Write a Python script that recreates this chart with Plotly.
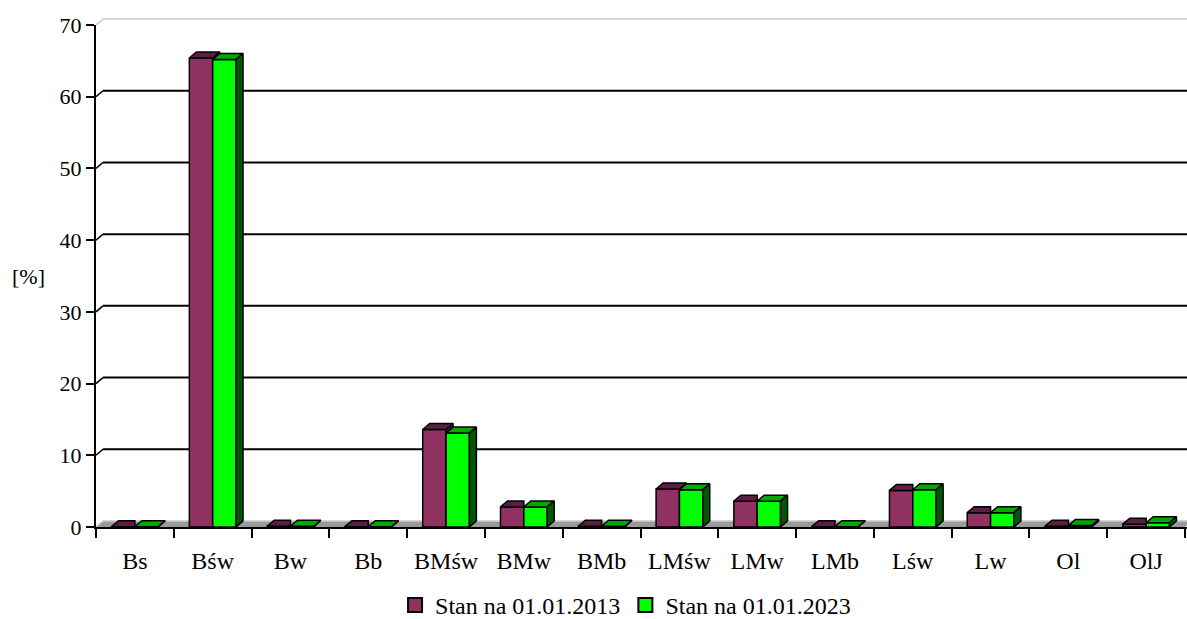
import plotly.graph_objects as go

# Forest site types and their share of area [%]
categories = ["Bs", "Bśw", "Bw", "Bb", "BMśw", "BMw", "BMb",
              "LMśw", "LMw", "LMb", "Lśw", "Lw", "Ol", "OlJ"]
share_2013 = [0.05, 65.4, 0.1, 0.05, 13.6, 2.8, 0.1, 5.3, 3.6, 0.05, 5.1, 2.0, 0.1, 0.4]
share_2023 = [0.05, 65.2, 0.1, 0.05, 13.1, 2.8, 0.1, 5.2, 3.6, 0.05, 5.2, 2.0, 0.2, 0.6]
series_names = ["Stan na 01.01.2013", "Stan na 01.01.2023"]
y_ticks = [0, 10, 20, 30, 40, 50, 60, 70]

FONT = "Liberation Serif, Times New Roman, DejaVu Serif, serif"
BAR_W = 0.3           # bar width in category units
DX, DY = 0.09, 0.835  # pseudo-3D depth offsets (x units, y units)
Y_MAX = 70

PURPLE_FRONT, PURPLE_TOP = "#8f3161", "#5c1e42"
GREEN_FRONT, GREEN_TOP, GREEN_SIDE = "#00ff00", "#00a800", "#005800"

idx = list(range(len(categories)))
x_2013 = [i - BAR_W / 2 for i in idx]
x_2023 = [i + BAR_W / 2 for i in idx]
x_left, x_right = -0.5, len(categories) - 0.5
x_max = x_right + 0.025

fig = go.Figure()

# front faces of the columns
fig.add_trace(go.Bar(x=x_2013, y=share_2013, width=BAR_W, name=series_names[0],
                     showlegend=False,
                     marker=dict(color=PURPLE_FRONT, line=dict(color="black", width=1.5))))
fig.add_trace(go.Bar(x=x_2023, y=share_2023, width=BAR_W, name=series_names[1],
                     showlegend=False,
                     marker=dict(color=GREEN_FRONT, line=dict(color="black", width=1.5))))


def poly(points, xs, ys):
    for px, py in points + [points[0]]:
        xs.append(px)
        ys.append(py)
    xs.append(None)
    ys.append(None)


# top and side faces computed from the same values
p_top_x, p_top_y, p_side_x, p_side_y = [], [], [], []
g_top_x, g_top_y, g_side_x, g_side_y = [], [], [], []
for i, a, b in zip(idx, share_2013, share_2023):
    x0, x1, x2 = i - BAR_W, i, i + BAR_W
    if b >= a:
        poly([(x0, a), (x1, a), (x1, a + DY), (x0 + DX, a + DY)], p_top_x, p_top_y)
    else:
        poly([(x0, a), (x1, a), (x1 + DX, a + DY), (x0 + DX, a + DY)], p_top_x, p_top_y)
        poly([(x1, b), (x1 + DX, max(b, DY)), (x1 + DX, a + DY), (x1, a)], p_side_x, p_side_y)
    poly([(x1, b), (x2, b), (x2 + DX, b + DY), (x1 + DX, b + DY)], g_top_x, g_top_y)
    poly([(x2, 0), (x2 + DX, DY), (x2 + DX, b + DY), (x2, b)], g_side_x, g_side_y)

for xs, ys, col in [(p_side_x, p_side_y, PURPLE_TOP), (p_top_x, p_top_y, PURPLE_TOP),
                    (g_top_x, g_top_y, GREEN_TOP), (g_side_x, g_side_y, GREEN_SIDE)]:
    fig.add_trace(go.Scatter(x=xs, y=ys, mode="lines", fill="toself", fillcolor=col,
                             line=dict(color="black", width=1.5), showlegend=False,
                             hoverinfo="skip"))

# legend entries: bordered squares in the series colours
for name, col in zip(series_names, [PURPLE_FRONT, GREEN_FRONT]):
    fig.add_trace(go.Scatter(x=[None], y=[None], mode="markers", name=name,
                             marker=dict(symbol="square", size=14, color=col,
                                         line=dict(color="black", width=2))))

# floor, back wall gridlines and side-wall slants
shapes = [dict(type="path", layer="below", xref="x", yref="y",
               path=f"M{x_left},0 L{x_right},0 L{x_right + DX},{DY} L{x_left + DX},{DY} Z",
               fillcolor="#9a9a9a", line=dict(width=0))]
for t in y_ticks:
    if t == Y_MAX:
        # top edge of the back wall sits above the value range, drawn in paper units
        top = (Y_MAX + DY) / Y_MAX
        dxp = DX / (x_max - x_left)
        shapes.append(dict(type="line", layer="below", xref="paper", yref="paper",
                           x0=dxp, x1=1, y0=top, y1=top,
                           line=dict(color="#c8c8c8", width=1.5)))
        shapes.append(dict(type="line", layer="below", xref="paper", yref="paper",
                           x0=0, x1=dxp, y0=1, y1=top,
                           line=dict(color="#c8c8c8", width=1.5)))
        continue
    col, w = ("#c8c8c8", 1.5) if t == 0 else ("black", 2)
    shapes.append(dict(type="line", layer="below", xref="x", yref="y",
                       x0=x_left + DX, x1=x_right + 0.2, y0=t + DY, y1=t + DY,
                       line=dict(color=col, width=w)))
    shapes.append(dict(type="line", layer="below", xref="x", yref="y",
                       x0=x_left, x1=x_left + DX, y0=t, y1=t + DY,
                       line=dict(color=col, width=1.5)))

fig.update_layout(
    width=1187, height=619,
    margin=dict(l=96, r=0, t=24.5, b=91.5),
    paper_bgcolor="white", plot_bgcolor="white",
    barmode="overlay",
    font=dict(family=FONT, size=22, color="black"),
    shapes=shapes,
    showlegend=True,
    legend=dict(orientation="h", xref="container", yref="container",
                x=0.527, xanchor="center", y=0.022, yanchor="middle",
                font=dict(family=FONT, size=24), itemwidth=30,
                bgcolor="rgba(0,0,0,0)"),
    xaxis=dict(range=[x_left, x_max], tickvals=[i - 0.5 for i in idx] + [x_right],
               showticklabels=False, ticks="outside", ticklen=9, tickwidth=2,
               tickcolor="black", showline=True, linecolor="black", linewidth=2,
               showgrid=False, zeroline=False, fixedrange=True),
    xaxis2=dict(overlaying="x", anchor="y", side="bottom",
                range=[x_left, x_max], tickvals=idx, ticktext=categories,
                ticks="outside", ticklen=12, tickcolor="rgba(0,0,0,0)",
                tickfont=dict(family=FONT, size=24), showgrid=False, zeroline=False,
                showline=False, fixedrange=True),
    yaxis=dict(range=[0, Y_MAX], tickvals=y_ticks, ticks="outside", ticklen=8,
               tickwidth=2, tickcolor="black", showline=True, linecolor="black",
               linewidth=2, showgrid=False, zeroline=False,
               tickfont=dict(family=FONT, size=22), fixedrange=True),
    annotations=[dict(text="[%]", xref="paper", yref="paper", x=-0.062, y=0.499,
                      xanchor="center", yanchor="middle", showarrow=False,
                      font=dict(family=FONT, size=22))],
)

# empty trace so the category-label axis is rendered
fig.add_trace(go.Scatter(x=[None], y=[None], xaxis="x2", yaxis="y", showlegend=False,
                         hoverinfo="skip"))

fig.write_html("out.html")
